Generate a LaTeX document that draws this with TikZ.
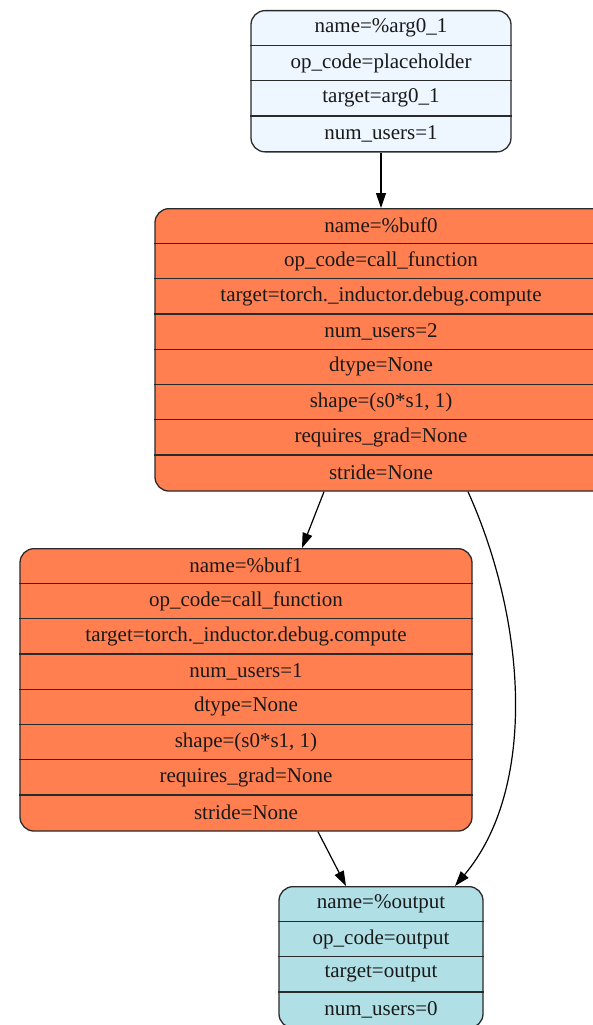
\documentclass[tikz,border=0pt]{standalone}
\usepackage{fontspec}
\setmainfont{Liberation Serif}
\usetikzlibrary{arrows.meta,calc}

\definecolor{argfill}{HTML}{EEF6FF}
\definecolor{buffill}{HTML}{FF7F50}
\definecolor{outfill}{HTML}{B0E0E6}
\definecolor{inkline}{HTML}{2A2A2A}

\tikzset{
  recbox/.style={draw=inkline, line width=1.3pt, rounded corners=14pt,
                 inner sep=0pt, anchor=north},
  cell/.style={font=\fontsize{21}{21}\selectfont, text=black!90, inner sep=0pt},
  rowsep/.style={draw=inkline, line width=1.3pt},
  edge/.style={draw=black, line width=1.2pt, -{Triangle[length=15pt,width=10pt]}}
}

% one record: name, centre x, top y, width, fill, number of rows, rows
\newcommand\recordnode[7]{%
  \node[recbox, fill=#5, minimum width=#4pt, minimum height={#6*35.3pt}] (#1) at (#2,#3) {};
  \foreach \t [count=\i] in {#7} {
    \node[cell] (#1-\i) at ($(#1.north)+(0,{(\i-0.5)*35.3})$) {\t};
    \ifnum\i>1
      \draw[rowsep] ($(#1.north west)+(0,{(\i-1)*35.3})$) -- ($(#1.north east)+(0,{(\i-1)*35.3})$);
    \fi
  }
}

\begin{document}
\begin{tikzpicture}[x=1pt,y=-1pt]
\useasboundingbox (0,0) rectangle (593,1025);

\recordnode{arg0}{381}{10}{260}{argfill}{4}{name=\%arg0\_1, op\_code=placeholder, target=arg0\_1, num\_users=1}

\recordnode{buf0}{381}{208}{452}{buffill}{8}{name=\%buf0, op\_code=call\_function, target=torch.\_inductor.debug.compute, num\_users=2, dtype=None, {shape=(s0*s1, 1)}, requires\_grad=None, stride=None}

\recordnode{buf1}{246}{548}{452}{buffill}{8}{name=\%buf1, op\_code=call\_function, target=torch.\_inductor.debug.compute, num\_users=1, dtype=None, {shape=(s0*s1, 1)}, requires\_grad=None, stride=None}

\recordnode{out}{381}{886}{204}{outfill}{4}{name=\%output, op\_code=output, target=output, num\_users=0}

% data flow
\draw[edge] (arg0.south) -- (buf0.north);
\draw[edge] ([xshift=-57pt]buf0.south) -- ([xshift=56pt]buf1.north);
\draw[edge] ([xshift=87pt]buf0.south) .. controls (528,625) and (536,790) .. ([xshift=74pt]out.north);
\draw[edge] ([xshift=72pt]buf1.south) -- ([xshift=-35pt]out.north);
\end{tikzpicture}
\end{document}
